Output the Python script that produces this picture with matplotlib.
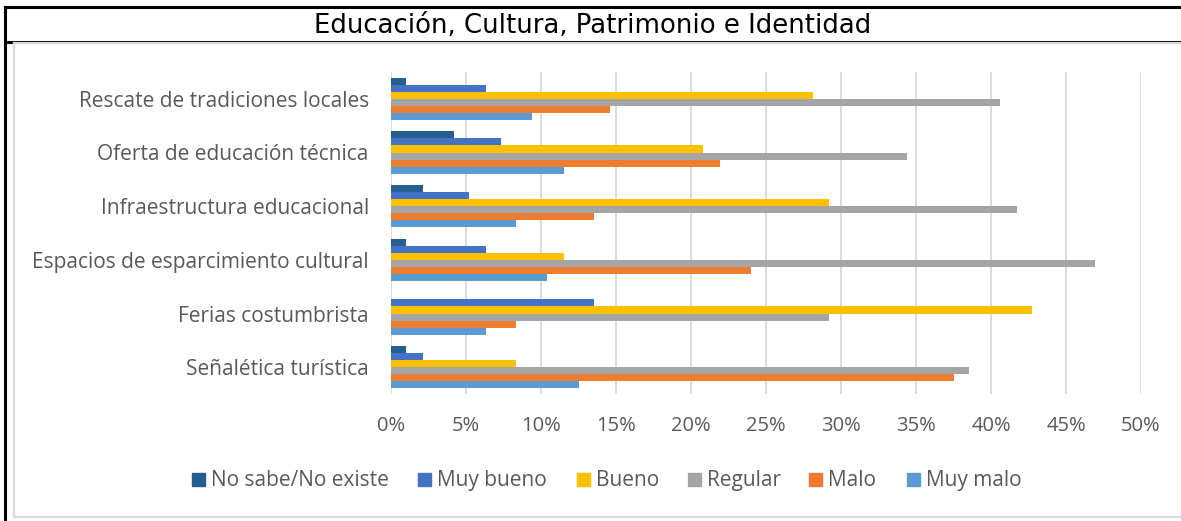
import numpy as np
import matplotlib.pyplot as plt
from matplotlib.patches import Rectangle
from matplotlib.lines import Line2D

plt.rcParams['font.family'] = ['Open Sans', 'DejaVu Sans']

# categorias (de arriba a abajo)
categorias = ['Rescate de tradiciones locales', 'Oferta de educación técnica',
              'Infraestructura educacional', 'Espacios de esparcimiento cultural',
              'Ferias costumbrista', 'Señalética turística']

series = ['No sabe/No existe', 'Muy bueno', 'Bueno', 'Regular', 'Malo', 'Muy malo']
colores = ['#255E91', '#4472C4', '#FFC000', '#A5A5A5', '#ED7D31', '#5B9BD5']

# porcentajes
no_sabe = [1.0, 4.2, 2.1, 1.0, 0.0, 1.0]
muy_bueno = [6.3, 7.3, 5.2, 6.3, 13.5, 2.1]
bueno = [28.1, 20.8, 29.2, 11.5, 42.7, 8.3]
regular = [40.6, 34.4, 41.7, 46.9, 29.2, 38.5]
malo = [14.6, 21.9, 13.5, 24.0, 8.3, 37.5]
muy_malo = [9.4, 11.5, 8.3, 10.4, 6.3, 12.5]
valores = [no_sabe, muy_bueno, bueno, regular, malo, muy_malo]

W, H = 1181, 521
fig = plt.figure(figsize=(W / 100, H / 100), dpi=100)

ax = fig.add_axes([391 / W, (H - 394) / H, 750 / W, 322 / H])

y = np.arange(len(categorias))
alto = 0.131
n = len(series)
for k, (nombre, vals) in enumerate(zip(series, valores)):
    pos = y - n * alto / 2 + alto * k + alto / 2
    ax.barh(pos, np.array(vals) / 100, height=alto, color=colores[k], label=nombre)

ax.set_xlim(0, 0.5)
ax.set_ylim(len(categorias) - 0.5, -0.5)
ax.set_xticks(np.arange(0, 0.51, 0.05))
ax.set_xticklabels([f'{int(round(t * 100))}%' for t in np.arange(0, 0.51, 0.05)])
ax.set_yticks(y)
ax.set_yticklabels(categorias)
ax.grid(axis='x', color='#D9D9D9', linewidth=1.3)
ax.set_axisbelow(True)
for s in ax.spines.values():
    s.set_visible(False)
ax.tick_params(axis='both', length=0, colors='#595959')
ax.tick_params(axis='x', pad=16, labelsize=14.5)
ax.tick_params(axis='y', pad=16, labelsize=15)

# titulo y marcos
fig.text(593 / W, 1 - 26 / H, 'Educación, Cultura, Patrimonio e Identidad',
         ha='center', va='center', fontsize=18.7, family=['DejaVu Sans'])
negro = dict(color='black', linewidth=2.2, transform=fig.transFigure)
fig.add_artist(Line2D([4.5 / W, 1], [1 - 6.5 / H, 1 - 6.5 / H], **negro))
fig.add_artist(Line2D([4.5 / W, 4.5 / W], [1 - 6.5 / H, 0], **negro))
fig.add_artist(Line2D([4.5 / W, 1], [1 - 41.5 / H, 1 - 41.5 / H], **negro))
gris = dict(color='#D9D9D9', linewidth=1.6, transform=fig.transFigure)
fig.add_artist(Line2D([13.5 / W, 13.5 / W], [1 - 43 / H, 1 - 516.5 / H], **gris))
fig.add_artist(Line2D([13.5 / W, 1], [1 - 516.5 / H, 1 - 516.5 / H], **gris))
fig.add_artist(Line2D([13.5 / W, 1], [1 - 43 / H, 1 - 43 / H], **gris))

# leyenda (cuadrado + texto, alineados en la linea base)
x_leyenda = [192, 418, 577, 688, 809, 907]
base = 1 - 486 / H
for x0, nombre, c in zip(x_leyenda, series, colores):
    fig.add_artist(Rectangle((x0 / W, base), 13 / W, 13 / H, color=c,
                             transform=fig.transFigure))
    fig.text((x0 + 19) / W, base, nombre, va='baseline', ha='left',
             fontsize=15, color='#595959')

fig.savefig('out.png', dpi=100)
